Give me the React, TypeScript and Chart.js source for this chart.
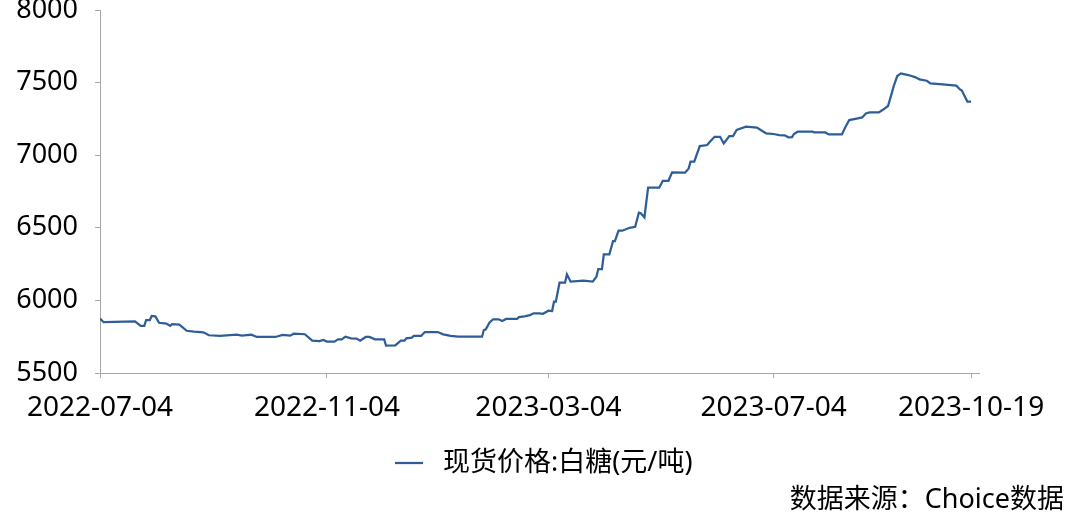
import React, { useEffect, useRef } from 'react';
import { Chart, registerables } from 'chart.js';

Chart.register(...registerables);

// Days since 2022-07-04
const dayOffsets = [
  0, 2, 19, 22, 24, 25, 27, 28, 30, 32, 36, 38, 39, 43, 47, 51, 56, 59, 65, 74,
  77, 82, 85, 95, 99, 103, 105, 111, 115, 119, 121, 123, 127, 129, 131, 133, 136, 139, 141, 144,
  146, 149, 154, 155, 160, 163, 165, 166, 169, 170, 174, 176, 183, 186, 190, 194, 207, 208, 209, 211,
  213, 216, 218, 220, 226, 227, 230, 233, 235, 238, 240, 243, 245, 246, 247, 249, 252, 253, 255, 262,
  267, 269, 270, 272, 273, 276, 278, 279, 281, 283, 287, 290, 292, 293, 295, 297, 303, 305, 308, 310,
  317, 319, 320, 322, 325, 329, 330, 333, 336, 338, 341, 343, 345, 350, 356, 358, 361, 365, 368, 371,
  373, 375, 376, 378, 386, 387, 393, 395, 402, 404, 406, 410, 413, 415, 417, 422, 424, 427, 429, 430,
  432, 434, 438, 442, 444, 448, 450, 455, 464, 466, 467, 470, 472,
];

const prices = [
  5875, 5850, 5855, 5825, 5825, 5865, 5865, 5893, 5890, 5846, 5840, 5824, 5836, 5833, 5791, 5785, 5780, 5760, 5755, 5764,
  5757, 5764, 5748, 5748, 5762, 5757, 5771, 5767, 5723, 5720, 5727, 5716, 5716, 5732, 5732, 5750, 5739, 5737, 5723, 5748,
  5748, 5732, 5732, 5688, 5690, 5723, 5723, 5739, 5744, 5755, 5755, 5782, 5782, 5766, 5755, 5750, 5750, 5796, 5800, 5846,
  5870, 5870, 5858, 5872, 5872, 5885, 5890, 5899, 5911, 5911, 5908, 5929, 5927, 5991, 5991, 6122, 6122, 6180, 6129, 6136,
  6129, 6163, 6216, 6216, 6317, 6317, 6409, 6409, 6480, 6480, 6500, 6507, 6604, 6600, 6572, 6776, 6776, 6824, 6824, 6882,
  6880, 6909, 6955, 6955, 7063, 7070, 7086, 7127, 7127, 7081, 7132, 7132, 7174, 7196, 7190, 7174, 7150, 7146, 7139, 7137,
  7123, 7125, 7146, 7162, 7162, 7157, 7157, 7143, 7143, 7196, 7242, 7252, 7260, 7288, 7295, 7295, 7311, 7339, 7426, 7472,
  7545, 7563, 7552, 7536, 7522, 7513, 7495, 7490, 7479, 7453, 7445, 7369, 7369,
];

const tickDays = [0, 123, 243, 365, 472];
const tickLabels = ['2022-07-04', '2022-11-04', '2023-03-04', '2023-07-04', '2023-10-19'];
const xMaxDay = 476.3;
const yMin = 5500;
const yMax = 8000;
const yStep = 500;

const seriesName = '现货价格:白糖(元/吨)';
const sourceText = '数据来源：Choice数据';

const LINE_COLOR = '#2E5E99';
const AXIS_COLOR = '#A6A6A6';
const FONT_FAMILY = '"Noto Sans", "Noto Sans CJK SC", sans-serif';

const overlayPlugin = {
  id: 'overlayLegendSource',
  afterDraw(chart: any) {
    const ctx = chart.ctx as CanvasRenderingContext2D;
    const ds = chart.data.datasets[0];
    ctx.save();
    // legend
    const ly = 463;
    ctx.strokeStyle = ds.borderColor;
    ctx.lineWidth = 2.25;
    ctx.beginPath();
    ctx.moveTo(395, ly);
    ctx.lineTo(423, ly);
    ctx.stroke();
    ctx.font = '27px ' + FONT_FAMILY;
    ctx.fillStyle = '#000000';
    ctx.textBaseline = 'middle';
    ctx.textAlign = 'left';
    ctx.fillText(ds.label, 443, ly);
    // source
    ctx.textAlign = 'right';
    ctx.fillText(sourceText, 1064, 500);
    ctx.restore();
  },
};

export default function App() {
  const canvasRef = useRef<HTMLCanvasElement | null>(null);

  useEffect(() => {
    const canvas = canvasRef.current;
    if (!canvas) return;
    const points = dayOffsets.map((d, i) => ({ x: d, y: prices[i] }));
    const chart = new Chart(canvas, {
      type: 'line',
      data: {
        datasets: [
          {
            label: seriesName,
            data: points,
            borderColor: LINE_COLOR,
            backgroundColor: LINE_COLOR,
            borderWidth: 2.25,
            pointRadius: 0,
            tension: 0,
            fill: false,
          },
        ],
      },
      options: {
        animation: false,
        responsive: false,
        devicePixelRatio: 1,
        layout: { padding: { top: 10, right: 91, bottom: 106, left: 0 } },
        plugins: {
          legend: { display: false },
          tooltip: { enabled: false },
        },
        scales: {
          x: {
            type: 'linear',
            min: 0,
            max: xMaxDay,
            afterBuildTicks: (scale: any) => {
              scale.ticks = tickDays.map((v) => ({ value: v }));
            },
            afterFit: (scale: any) => {
              scale.height = 52;
            },
            border: { display: true, color: AXIS_COLOR, width: 1 },
            grid: {
              display: true,
              drawOnChartArea: false,
              drawTicks: true,
              tickLength: 5,
              color: AXIS_COLOR,
            },
            ticks: {
              autoSkip: false,
              maxRotation: 0,
              minRotation: 0,
              padding: 13,
              color: '#000000',
              font: { family: FONT_FAMILY, size: 28, lineHeight: 1.2 },
              callback: (_v: any, i: number) => tickLabels[i],
            },
          },
          y: {
            type: 'linear',
            min: yMin,
            max: yMax,
            afterFit: (scale: any) => {
              scale.width = 100;
              scale.paddingTop = 0;
              scale.paddingBottom = 0;
            },
            border: { display: true, color: AXIS_COLOR, width: 1 },
            grid: {
              display: true,
              drawOnChartArea: false,
              drawTicks: true,
              tickLength: 5,
              color: AXIS_COLOR,
            },
            ticks: {
              stepSize: yStep,
              padding: 17,
              color: '#000000',
              font: { family: FONT_FAMILY, size: 27, lineHeight: 0.7 },
              callback: (v: any) => String(v),
            },
          },
        },
      },
      plugins: [overlayPlugin],
    });
    return () => chart.destroy();
  }, []);

  return (
    <div style={{ position: 'absolute', left: 0, top: 0, width: 1070, height: 531, background: '#ffffff' }}>
      <canvas ref={canvasRef} width={1070} height={531} style={{ display: 'block', width: 1070, height: 531 }} />
    </div>
  );
}
